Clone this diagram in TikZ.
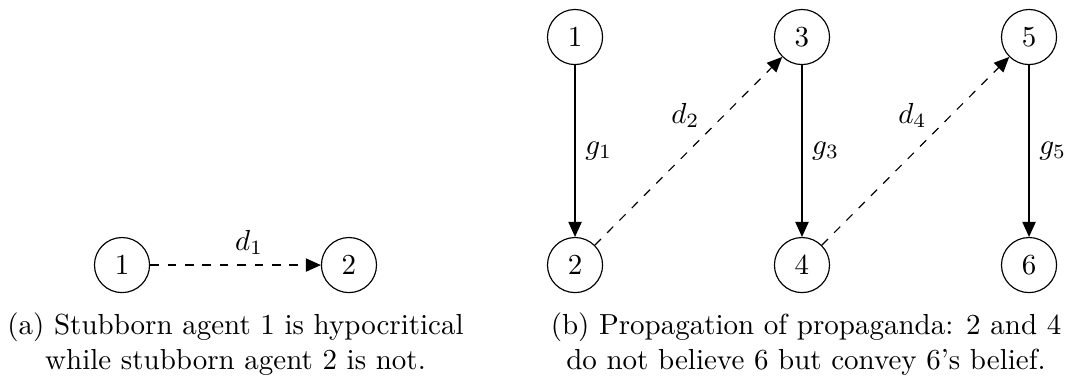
\documentclass[tikz,border=0pt]{standalone}
\usepackage{amsmath}
\usepackage{tikz}
\usetikzlibrary{arrows.meta, positioning}

\begin{document}
\begin{tikzpicture}[
    agent/.style={circle, draw, minimum size=19pt, inner sep=0pt},
    link/.style={-{Triangle[length=5.2pt, width=4.6pt]}},
    dlink/.style={link, dashed}
  ]

            \useasboundingbox (0,0) rectangle (12.994,4.558);

            % (a) 两个固执的个体
            \node[agent] (a1) at (1.479,1.345) {1};
            \node[agent] (a2) at (4.230,1.345) {2};
            \draw[dlink] (a1) -- node[pos=0.58, above] {$d_1$} (a2);

            % (b) 上排
            \node[agent] (b1) at (6.970,4.109) {1};
            \node[agent] (b3) at (9.721,4.109) {3};
            \node[agent] (b5) at (12.473,4.109) {5};

            % (b) 下排
            \node[agent] (b2) at (6.970,1.345) {2};
            \node[agent] (b4) at (9.721,1.345) {4};
            \node[agent] (b6) at (12.473,1.345) {6};

            % 实线边
            \draw[link] (b1) -- node[midway, right] {$g_1$} (b2);
            \draw[link] (b3) -- node[midway, right] {$g_3$} (b4);
            \draw[link] (b5) -- node[midway, right] {$g_5$} (b6);

            % 虚线边
            \draw[dlink] (b2) -- node[pos=0.69, left=5pt] {$d_2$} (b3);
            \draw[dlink] (b4) -- node[pos=0.69, left=5pt] {$d_4$} (b5);

            % 标题
            \node[align=center] (capA) at (2.855,0.388)
              {(a) Stubborn agent 1 is hypocritical\\while stubborn agent 2 is not.};
            \node[align=center] (capB) at (9.770,0.388)
              {(b) Propagation of propaganda: 2 and 4\\do not believe 6 but convey 6's belief.};

\end{tikzpicture}
\end{document}
